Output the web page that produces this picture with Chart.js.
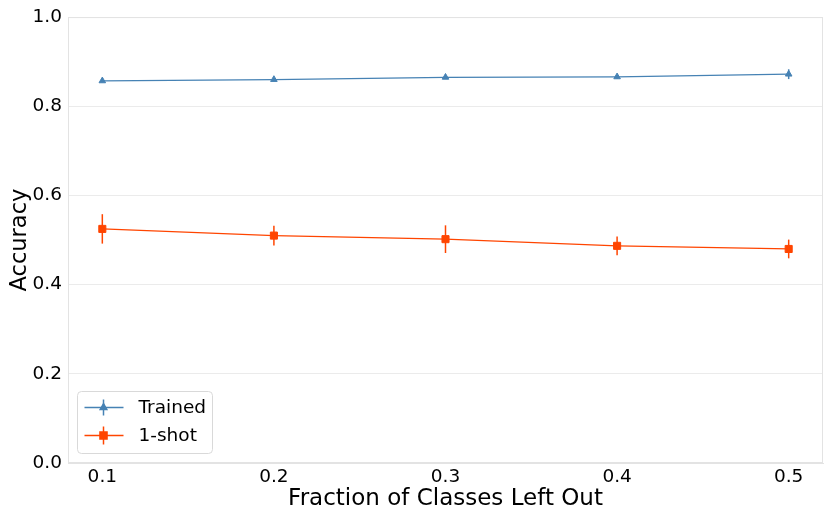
<!DOCTYPE html>
<html>
<head>
<meta charset="utf-8">
<script src="https://cdn.jsdelivr.net/npm/chart.js@4"></script>
<style>
html,body{margin:0;padding:0;background:#fff;}
#wrap{width:830px;height:519px;position:relative;}
</style>
</head>
<body>
<div id="wrap"><canvas id="c" width="830" height="519"></canvas></div>
<script>
const fractions = [0.1, 0.2, 0.3, 0.4, 0.5];
const trainedAcc = [0.857, 0.860, 0.865, 0.866, 0.872];
const trainedErr = [0.003, 0.003, 0.003, 0.004, 0.011];
const oneShotAcc = [0.525, 0.510, 0.502, 0.487, 0.480];
const oneShotErr = [0.033, 0.022, 0.031, 0.021, 0.021];
const seriesNames = ['Trained', '1-shot'];
const xTicks = [0.1, 0.2, 0.3, 0.4, 0.5];
const yTicks = [0.0, 0.2, 0.4, 0.6, 0.8, 1.0];

const BLUE = '#4682b4';
const RED = '#ff4500';
const FONT = 'DejaVu Sans';

const toPts = (xs, ys) => xs.map((x, i) => ({x: x, y: ys[i]}));

const errorBarPlugin = {
  id: 'errorBars',
  afterDatasetsDraw(chart) {
    const ctx = chart.ctx;
    const xs = chart.scales.x, ys = chart.scales.y;
    chart.data.datasets.forEach((ds) => {
      ctx.save();
      ctx.strokeStyle = ds.borderColor;
      ctx.lineWidth = 1.5;
      ds.data.forEach((p, i) => {
        const e = ds.errors[i];
        const px = xs.getPixelForValue(p.x);
        ctx.beginPath();
        ctx.moveTo(px, ys.getPixelForValue(p.y - e));
        ctx.lineTo(px, ys.getPixelForValue(p.y + e));
        ctx.stroke();
      });
      ctx.restore();
    });
  }
};

const framePlugin = {
  id: 'frame',
  beforeDatasetsDraw(chart) {
    const {ctx, chartArea: a} = chart;
    ctx.save();
    ctx.strokeStyle = '#e3e3e3';
    ctx.lineWidth = 1;
    ctx.strokeRect(a.left + 0.5, a.top + 0.5, a.right - a.left - 1, a.bottom - a.top - 1);
    ctx.restore();
  }
};

const legendPlugin = {
  id: 'customLegend',
  afterDraw(chart) {
    const ctx = chart.ctx;
    const a = chart.chartArea;
    const bx = a.left + 9.5, by = a.bottom - 71.5, bw = 135, bh = 62;
    ctx.save();
    ctx.fillStyle = 'rgba(255,255,255,0.85)';
    ctx.strokeStyle = '#d9d9d9';
    ctx.lineWidth = 1;
    ctx.beginPath();
    ctx.roundRect(bx, by, bw, bh, 4);
    ctx.fill();
    ctx.stroke();
    const rows = [
      {name: seriesNames[0], color: BLUE, style: 'triangle', r: 3.8, err: 8},
      {name: seriesNames[1], color: RED, style: 'rect', r: 5, err: 9}
    ];
    rows.forEach((row, i) => {
      const cy = by + 16 + i * 28;
      ctx.strokeStyle = row.color;
      ctx.lineWidth = 1.3;
      ctx.beginPath();
      ctx.moveTo(bx + 7, cy);
      ctx.lineTo(bx + 46, cy);
      ctx.stroke();
      ctx.lineWidth = 1.5;
      ctx.beginPath();
      ctx.moveTo(bx + 26, cy - row.err);
      ctx.lineTo(bx + 26, cy + row.err);
      ctx.stroke();
      ctx.fillStyle = row.color;
      Chart.helpers.drawPoint(ctx, {pointStyle: row.style, radius: row.r, borderWidth: 1}, bx + 26, cy);
      ctx.fillStyle = '#000';
      ctx.font = '18.5px "' + FONT + '"';
      ctx.textBaseline = 'middle';
      ctx.textAlign = 'left';
      ctx.fillText(row.name, bx + 61, cy + 1);
    });
    ctx.restore();
  }
};

new Chart(document.getElementById('c'), {
  type: 'line',
  data: {
    datasets: [
      {
        label: seriesNames[0],
        data: toPts(fractions, trainedAcc),
        errors: trainedErr,
        borderColor: BLUE,
        backgroundColor: BLUE,
        borderWidth: 1.3,
        pointStyle: 'triangle',
        pointRadius: 3.8,
        pointBorderWidth: 1,
        tension: 0
      },
      {
        label: seriesNames[1],
        data: toPts(fractions, oneShotAcc),
        errors: oneShotErr,
        borderColor: RED,
        backgroundColor: RED,
        borderWidth: 1.3,
        pointStyle: 'rect',
        pointRadius: 5,
        pointBorderWidth: 1,
        tension: 0
      }
    ]
  },
  options: {
    responsive: false,
    animation: false,
    devicePixelRatio: 1,
    layout: {padding: {top: 15, right: 7, left: 0, bottom: 0}},
    plugins: {legend: {display: false}, tooltip: {enabled: false}},
    scales: {
      x: {
        type: 'linear',
        min: 0.08,
        max: 0.52,
        afterFit(s) { s.height = 56; },
        afterBuildTicks(s) { s.ticks = xTicks.map(v => ({value: v})); },
        grid: {display: false, drawTicks: false},
        border: {display: true, color: '#e3e3e3'},
        ticks: {
          padding: 3,
          color: '#000',
          font: {family: FONT, size: 18.5},
          callback: v => v.toFixed(1)
        },
        title: {
          display: true,
          text: 'Fraction of Classes Left Out',
          color: '#000',
          font: {family: FONT, size: 23},
          padding: {top: 0, bottom: 6}
        }
      },
      y: {
        min: 0,
        max: 1,
        afterFit(s) { s.width = 68; },
        afterBuildTicks(s) { s.ticks = yTicks.map(v => ({value: v})); },
        grid: {color: '#ebebeb', lineWidth: 1, drawTicks: false},
        border: {display: true, color: '#e3e3e3'},
        ticks: {
          padding: 6,
          color: '#000',
          font: {family: FONT, size: 18.5},
          callback: v => v.toFixed(1)
        },
        title: {
          display: true,
          text: 'Accuracy',
          color: '#000',
          font: {family: FONT, size: 22.5},
          padding: {top: 7, bottom: 0}
        }
      }
    }
  },
  plugins: [framePlugin, errorBarPlugin, legendPlugin]
});
</script>
</body>
</html>
